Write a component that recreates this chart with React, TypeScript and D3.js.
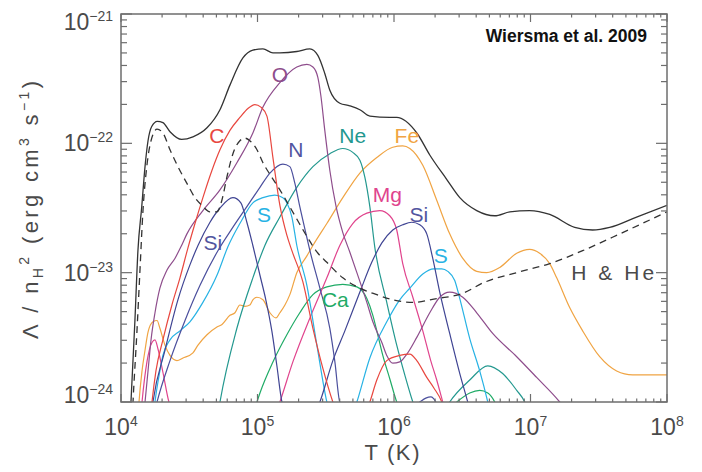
import React from 'react';
import * as d3 from 'd3';

// every series is [log10 T (K), log10 Lambda/nH^2 (erg cm^3 s^-1)]
const total: [number, number][] = [
  [4.06, -24.3], [4.073, -24.0], [4.102, -23.37], [4.124, -22.83], [4.152, -22.49], [4.176, -22.18], [4.198, -21.98],
  [4.225, -21.87], [4.266, -21.83], [4.307, -21.84], [4.359, -21.91], [4.444, -21.97], [4.527, -21.95], [4.63, -21.88],
  [4.725, -21.74], [4.798, -21.55], [4.893, -21.34], [4.966, -21.28], [5.04, -21.27], [5.113, -21.3], [5.164, -21.3],
  [5.288, -21.29], [5.384, -21.27], [5.442, -21.32], [5.493, -21.46], [5.53, -21.59], [5.603, -21.69], [5.676, -21.71],
  [5.75, -21.74], [5.823, -21.79], [5.969, -21.8], [6.02, -21.8], [6.167, -21.92], [6.262, -22.09], [6.387, -22.28],
  [6.482, -22.42], [6.606, -22.52], [6.738, -22.56], [6.848, -22.53], [6.994, -22.52], [7.141, -22.55], [7.324, -22.65],
  [7.455, -22.67], [7.58, -22.65], [7.777, -22.57], [8.0, -22.48],
];

const hHe: [number, number][] = [
  [4.075, -24.3], [4.088, -24.0], [4.117, -23.45], [4.139, -22.98], [4.161, -22.52], [4.19, -22.17], [4.22, -21.98],
  [4.264, -21.89], [4.307, -21.92], [4.359, -22.05], [4.417, -22.18], [4.483, -22.31], [4.542, -22.42], [4.593, -22.48],
  [4.652, -22.53], [4.703, -22.53], [4.739, -22.44], [4.776, -22.26], [4.82, -22.08], [4.871, -21.98], [4.908, -21.96],
  [4.944, -21.98], [4.996, -22.05], [5.04, -22.15], [5.091, -22.24], [5.164, -22.36], [5.274, -22.56], [5.362, -22.72],
  [5.435, -22.84], [5.508, -22.92], [5.625, -23.04], [5.75, -23.12], [5.874, -23.17], [5.991, -23.21], [6.138, -23.23],
  [6.313, -23.2], [6.504, -23.16], [6.65, -23.08], [6.899, -23.0], [7.141, -22.93], [7.382, -22.83], [7.675, -22.69],
  [8.0, -22.53],
];

const carbon: [number, number][] = [
  [4.2, -24.3], [4.227, -24.0], [4.256, -23.76], [4.307, -23.52], [4.373, -23.25], [4.432, -23.04], [4.49, -22.81],
  [4.542, -22.62], [4.6, -22.42], [4.666, -22.21], [4.725, -22.05], [4.798, -21.9], [4.871, -21.8], [4.93, -21.73],
  [4.981, -21.7], [5.025, -21.72], [5.069, -21.79], [5.113, -22.11], [5.164, -22.48], [5.215, -22.71], [5.252, -22.83],
  [5.332, -23.07], [5.406, -23.43], [5.479, -23.74], [5.552, -24.0], [5.676, -24.3], [5.823, -24.0], [5.874, -23.83],
  [5.947, -23.68], [6.042, -23.64], [6.116, -23.63], [6.167, -23.68], [6.24, -23.81], [6.291, -23.89], [6.35, -24.0],
  [6.408, -24.22],
];

const oxygen: [number, number][] = [
  [4.15, -24.3], [4.176, -24.0], [4.198, -23.76], [4.22, -23.52], [4.249, -23.31], [4.285, -23.12], [4.337, -22.98],
  [4.395, -22.89], [4.439, -22.8], [4.483, -22.7], [4.6, -22.52], [4.725, -22.36], [4.849, -22.15], [4.966, -21.92],
  [5.04, -21.72], [5.164, -21.53], [5.288, -21.41], [5.362, -21.39], [5.406, -21.41], [5.442, -21.49], [5.464, -21.63],
  [5.493, -21.9], [5.53, -22.21], [5.574, -22.48], [5.625, -22.69], [5.676, -22.84], [5.728, -23.0], [5.801, -23.23],
  [5.845, -23.38], [5.911, -23.54], [5.947, -23.64], [5.991, -23.7], [6.042, -23.69], [6.094, -23.63], [6.167, -23.5],
  [6.262, -23.31], [6.335, -23.19], [6.408, -23.15], [6.504, -23.19], [6.606, -23.31], [6.723, -23.47], [6.899, -23.65],
  [7.045, -23.81], [7.214, -24.0], [7.35, -24.2],
];

const nitrogen: [number, number][] = [
  [4.2, -24.3], [4.264, -24.0], [4.359, -23.68], [4.469, -23.37], [4.578, -23.1], [4.71, -22.83], [4.813, -22.66],
  [4.922, -22.49], [5.018, -22.34], [5.091, -22.23], [5.186, -22.16], [5.237, -22.18], [5.274, -22.31], [5.31, -22.49],
  [5.362, -22.73], [5.384, -22.83], [5.457, -23.12], [5.53, -23.43], [5.567, -23.69], [5.603, -24.0], [5.896, -24.3],
  [6.189, -24.0], [6.233, -23.97], [6.269, -23.96], [6.306, -24.0], [6.35, -24.2],
];

const silicon: [number, number][] = [
  [4.2, -24.3], [4.234, -24.0], [4.322, -23.6], [4.417, -23.21], [4.505, -22.94], [4.564, -22.79], [4.652, -22.61],
  [4.725, -22.5], [4.82, -22.42], [4.878, -22.46], [4.922, -22.61], [4.966, -22.79], [5.018, -23.02], [5.061, -23.21],
  [5.105, -23.45], [5.142, -23.72], [5.179, -24.0], [5.31, -24.3], [5.457, -24.0], [5.552, -23.68], [5.64, -23.45],
  [5.75, -23.15], [5.837, -22.92], [5.911, -22.77], [5.991, -22.67], [6.064, -22.63], [6.13, -22.61], [6.189, -22.63],
  [6.24, -22.7], [6.284, -22.89], [6.335, -23.15], [6.408, -23.47], [6.482, -23.78], [6.54, -24.0], [6.6, -24.25],
];

const sulphur: [number, number][] = [
  [4.22, -24.3], [4.249, -24.0], [4.285, -23.76], [4.307, -23.64], [4.359, -23.52], [4.432, -23.45], [4.505, -23.38],
  [4.6, -23.23], [4.703, -23.02], [4.783, -22.8], [4.871, -22.62], [4.966, -22.46], [5.04, -22.42], [5.127, -22.4],
  [5.186, -22.42], [5.215, -22.46], [5.252, -22.57], [5.288, -22.79], [5.362, -23.1], [5.435, -23.56], [5.508, -24.0],
  [5.618, -24.3], [5.728, -24.0], [5.823, -23.66], [5.947, -23.38], [6.042, -23.21], [6.116, -23.12], [6.211, -23.01],
  [6.291, -22.97], [6.35, -22.97], [6.394, -22.99], [6.445, -23.06], [6.482, -23.2], [6.555, -23.51], [6.628, -23.76],
  [6.687, -24.0], [6.74, -24.25],
];

const magnesium: [number, number][] = [
  [4.13, -24.3], [4.154, -24.0], [4.19, -23.69], [4.227, -23.54], [4.249, -23.52], [4.271, -23.59], [4.307, -23.77],
  [4.351, -24.0], [4.578, -24.45], [5.054, -24.3], [5.164, -24.0], [5.259, -23.69], [5.384, -23.35], [5.508, -23.04],
  [5.603, -22.79], [5.698, -22.62], [5.801, -22.54], [5.896, -22.52], [5.969, -22.56], [6.02, -22.67], [6.064, -22.93],
  [6.138, -23.19], [6.211, -23.45], [6.269, -23.68], [6.313, -23.83], [6.357, -24.0], [6.42, -24.25],
];

const neon: [number, number][] = [
  [4.68, -24.3], [4.725, -24.0], [4.849, -23.43], [4.966, -23.04], [5.054, -22.79], [5.164, -22.57], [5.288, -22.34],
  [5.406, -22.18], [5.53, -22.08], [5.625, -22.04], [5.698, -22.07], [5.75, -22.13], [5.786, -22.26], [5.823, -22.49],
  [5.859, -22.8], [5.947, -23.23], [6.02, -23.56], [6.079, -23.79], [6.138, -24.0], [6.262, -24.3], [6.408, -24.0],
  [6.555, -23.83], [6.687, -23.72], [6.796, -23.78], [6.899, -23.91], [6.958, -24.0], [7.02, -24.2],
];

const calcium: [number, number][] = [
  [4.95, -24.2], [4.996, -24.0], [5.018, -23.93], [5.113, -23.69], [5.215, -23.48], [5.31, -23.31], [5.406, -23.17],
  [5.508, -23.11], [5.625, -23.09], [5.728, -23.11], [5.801, -23.2], [5.845, -23.33], [5.881, -23.48], [5.918, -23.64],
  [5.969, -23.82], [6.02, -24.0], [6.225, -24.3], [6.46, -24.0], [6.555, -23.93], [6.628, -23.91], [6.687, -23.93],
  [6.738, -24.0], [6.79, -24.15],
];

const iron: [number, number][] = [
  [4.115, -24.3], [4.132, -24.0], [4.154, -23.76], [4.176, -23.6], [4.198, -23.46], [4.234, -23.38], [4.264, -23.37],
  [4.285, -23.43], [4.322, -23.56], [4.359, -23.64], [4.41, -23.68], [4.454, -23.66], [4.527, -23.62], [4.564, -23.56],
  [4.63, -23.48], [4.703, -23.42], [4.74, -23.4], [4.798, -23.33], [4.835, -23.31], [4.871, -23.25], [4.908, -23.26],
  [4.944, -23.25], [4.966, -23.21], [4.996, -23.19], [5.04, -23.21], [5.091, -23.31], [5.135, -23.35], [5.164, -23.31],
  [5.201, -23.25], [5.237, -23.17], [5.288, -23.0], [5.362, -22.87], [5.406, -22.79], [5.508, -22.62], [5.625, -22.42],
  [5.75, -22.23], [5.874, -22.11], [5.991, -22.03], [6.064, -22.02], [6.116, -22.04], [6.211, -22.17], [6.313, -22.44],
  [6.408, -22.7], [6.504, -22.89], [6.606, -22.99], [6.679, -23.0], [6.775, -22.96], [6.899, -22.85], [6.994, -22.82],
  [7.067, -22.85], [7.141, -22.93], [7.192, -23.04], [7.287, -23.27], [7.382, -23.45], [7.507, -23.65], [7.631, -23.76],
  [7.748, -23.79], [7.873, -23.79], [8.0, -23.79],
];

// label anchors, same log units
const labels: { text: string; color: string; at: [number, number] }[] = [
  { text: 'C', color: '#e8473f', at: [4.703, -22.0] },
  { text: 'O', color: '#8e4d8c', at: [5.164, -21.526] },
  { text: 'N', color: '#52559f', at: [5.281, -22.107] },
  { text: 'Ne', color: '#23988f', at: [5.698, -22.0] },
  { text: 'Fe', color: '#f0a443', at: [6.094, -22.0] },
  { text: 'Mg', color: '#e0448d', at: [5.951, -22.453] },
  { text: 'Si', color: '#52559f', at: [6.182, -22.61] },
  { text: 'Si', color: '#52559f', at: [4.673, -22.827] },
  { text: 'S', color: '#27b2e4', at: [5.047, -22.61] },
  { text: 'S', color: '#27b2e4', at: [6.343, -22.927] },
  { text: 'Ca', color: '#1fab66', at: [5.57, -23.268] },
];

const series = [
  { data: iron, color: '#f0a443' },
  { data: calcium, color: '#1fab66' },
  { data: neon, color: '#23988f' },
  { data: magnesium, color: '#e0448d' },
  { data: sulphur, color: '#27b2e4' },
  { data: silicon, color: '#3f4493' },
  { data: nitrogen, color: '#4b4f9d' },
  { data: oxygen, color: '#8e4d8c' },
  { data: carbon, color: '#e8473f' },
];

const W = 702;
const H = 472;
const M = { left: 121, right: 667, top: 14, bottom: 402 };
const FONT = 'Liberation Sans, Arial, sans-serif';
const AXIS = '#6e6e6e';
const TXT = '#4a4a4a';

const isDecade = (v: number) => Math.abs(Math.log10(v) - Math.round(Math.log10(v))) < 1e-6;

export default function App() {
  const x = d3.scaleLog().domain([1e4, 1e8]).range([M.left, M.right]);
  const y = d3.scaleLog().domain([1e-24, 1e-21]).range([M.bottom, M.top]);
  const line = d3
    .line<[number, number]>()
    .x(d => x(10 ** d[0]))
    .y(d => y(10 ** d[1]))
    .curve(d3.curveMonotoneX);

  const xTicks = x.ticks();
  const yTicks = y.ticks();

  return (
    <svg width={W} height={H} style={{ position: 'absolute', left: 0, top: 0 }} fontFamily={FONT}>
      <rect width={W} height={H} fill="#fff" />
      <defs>
        <clipPath id="plot">
          <rect x={M.left} y={M.top} width={M.right - M.left} height={M.bottom - M.top} />
        </clipPath>
      </defs>

      <g clipPath="url(#plot)" fill="none" strokeWidth={1.2}>
        {series.map((s, i) => (
          <path key={i} d={line(s.data) ?? ''} stroke={s.color} />
        ))}
        <path d={line(hHe) ?? ''} stroke="#333" strokeDasharray="7,5" strokeWidth={1.3} />
        <path d={line(total) ?? ''} stroke="#333" strokeWidth={1.3} />
      </g>

      {/* frame + ticks */}
      <rect x={M.left} y={M.top} width={M.right - M.left} height={M.bottom - M.top} fill="none" stroke={AXIS} strokeWidth={1.5} />
      <g stroke={AXIS} strokeWidth={1.2}>
        {xTicks.map((t, i) => {
          const len = isDecade(t) ? 8 : 3.5;
          return (
            <g key={i}>
              <line x1={x(t)} x2={x(t)} y1={M.bottom} y2={M.bottom - len} />
              <line x1={x(t)} x2={x(t)} y1={M.top} y2={M.top + len} />
            </g>
          );
        })}
        {yTicks.map((t, i) => {
          const len = isDecade(t) ? 11 : 6;
          return (
            <g key={i}>
              <line x1={M.left} x2={M.left + len} y1={y(t)} y2={y(t)} />
              <line x1={M.right} x2={M.right - len} y1={y(t)} y2={y(t)} />
            </g>
          );
        })}
      </g>

      {/* tick labels */}
      <g fill={TXT}>
        {xTicks.filter(isDecade).map((t, i) => (
          <text key={i} x={x(t)} y={435} textAnchor="middle" fontSize={23}>
            10<tspan fontSize={14} dy={-9}>{Math.round(Math.log10(t))}</tspan>
          </text>
        ))}
        {yTicks.filter(isDecade).map((t, i) => {
          const base = Math.min(Math.max(y(t) + 8, M.top + 16), M.bottom + 1);
          return (
            <text key={i} x={113} y={base} textAnchor="end" fontSize={23}>
              10<tspan fontSize={14} dy={-9}>{'\u2212' + Math.abs(Math.round(Math.log10(t)))}</tspan>
            </text>
          );
        })}
      </g>

      {/* axis titles */}
      <text x={392} y={460} textAnchor="middle" fontSize={22} fill={TXT} textLength={55} lengthAdjust="spacing">
        T (K)
      </text>
      <text transform="translate(38,210) rotate(-90)" textAnchor="middle" fontSize={22} fill={TXT} textLength={258} lengthAdjust="spacing">
        Λ / n<tspan fontSize={14} dy={5}>H</tspan>
        <tspan fontSize={14} dy={-14}>2</tspan>
        <tspan dy={9}> (erg cm</tspan>
        <tspan fontSize={14} dy={-9}>3</tspan>
        <tspan dy={9}> s</tspan>
        <tspan fontSize={14} dy={-9}>{'\u22121'}</tspan>
        <tspan dy={9}>)</tspan>
      </text>

      {/* element labels */}
      {labels.map((l, i) => (
        <text key={i} x={x(10 ** l.at[0])} y={y(10 ** l.at[1])} textAnchor="middle" fontSize={21} fill={l.color}>
          {l.text}
        </text>
      ))}
      <text x={x(10 ** 7.602)} y={y(10 ** -23.059)} textAnchor="middle" fontSize={21} fill={TXT} textLength={83} lengthAdjust="spacing">
        H &amp; He
      </text>

      <text x={647} y={42} textAnchor="end" fontSize={17.5} fontWeight="bold" fill="#111">
        Wiersma et al. 2009
      </text>
    </svg>
  );
}
